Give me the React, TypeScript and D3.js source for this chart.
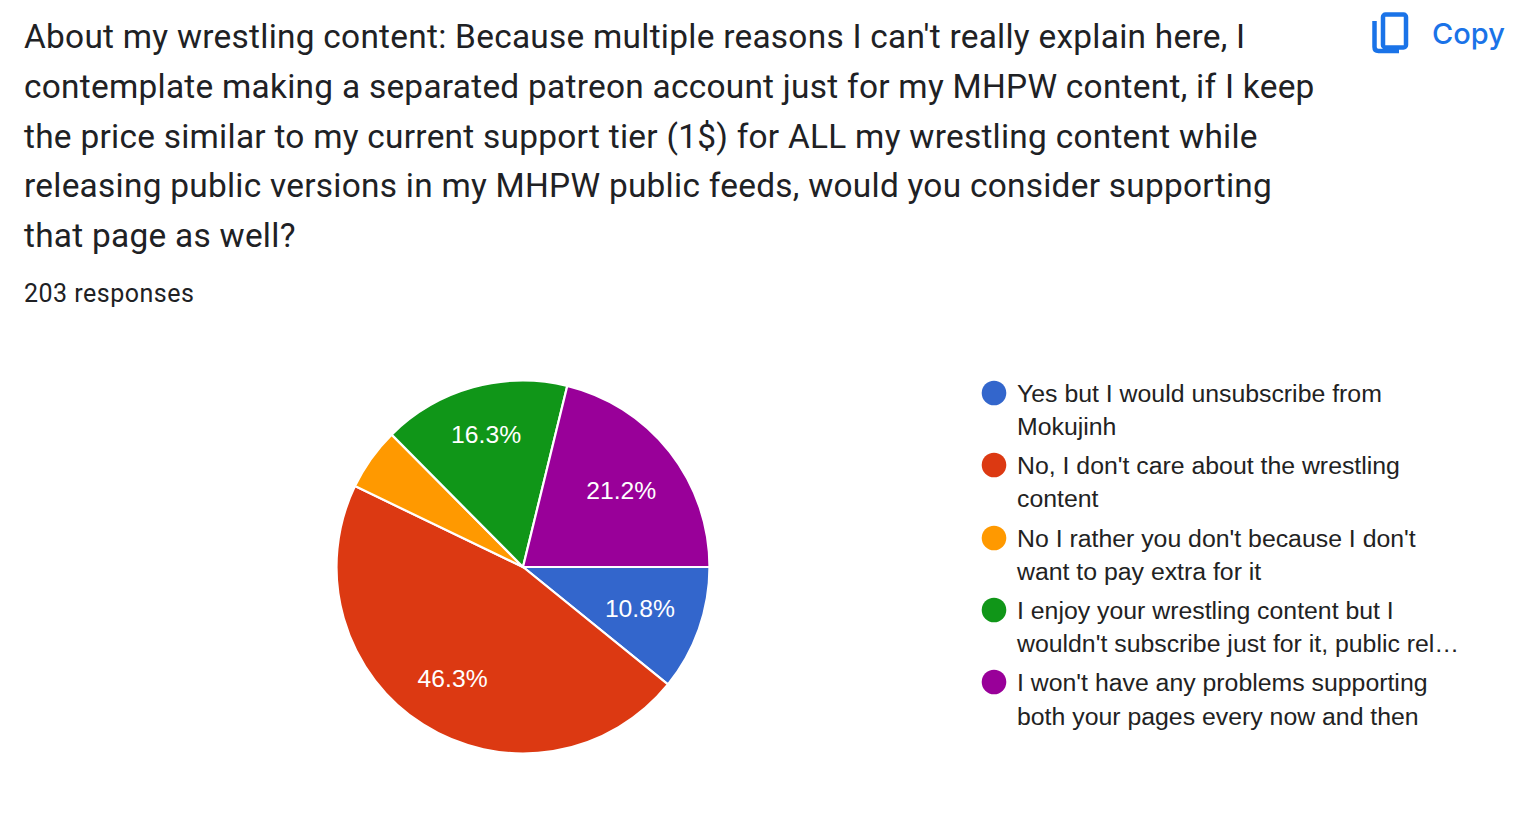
import * as d3 from "d3";

const titleLines = [
  "About my wrestling content: Because multiple reasons I can't really explain here, I",
  "contemplate making a separated patreon account just for my MHPW content, if I keep",
  "the price similar to my current support tier (1$) for ALL my wrestling content while",
  "releasing public versions in my MHPW public feeds, would you consider supporting",
  "that page as well?",
];
const responses = "203 responses";

const answers = [
  ["Yes but I would unsubscribe from", "Mokujinh"],
  ["No, I don't care about the wrestling", "content"],
  ["No I rather you don't because I don't", "want to pay extra for it"],
  ["I enjoy your wrestling content but I", "wouldn't subscribe just for it, public rel…"],
  ["I won't have any problems supporting", "both your pages every now and then"],
];
const counts = [22, 94, 11, 33, 43];
const colors = ["#3366cc", "#dc3912", "#ff9900", "#109618", "#990099"];

const width = 1537;
const height = 818;
const cx = 523;
const cy = 567;
const radius = 186.5;
const legendTops = [393, 465, 538, 610, 682];
// how far out each percent label sits, as a share of the radius
const labelOffsets = [0.665, 0.705, 0.665, 0.74, 0.67];

export default function App() {
  const total = d3.sum(counts);
  const pie = d3
    .pie<number>()
    .sort(null)
    .startAngle(Math.PI / 2)
    .endAngle(Math.PI / 2 + 2 * Math.PI);
  const slices = pie(counts);
  const arc = d3.arc<d3.PieArcDatum<number>>().innerRadius(0).outerRadius(radius);
  const pct = d3.format(".1%");

  return (
    <svg
      width={width}
      height={height}
      viewBox={`0 0 ${width} ${height}`}
      style={{ position: "absolute", left: 0, top: 0 }}
    >
      <rect width={width} height={height} fill="#fff" />
      {titleLines.map((line, i) => (
        <text
          key={i}
          x={24}
          y={48 + i * 49.8}
          fontFamily="Roboto"
          fontSize={33.4}
          letterSpacing={0.27}
          fill="#202124"
        >
          {line}
        </text>
      ))}
      <text
        x={24}
        y={302}
        fontFamily="Roboto"
        fontSize={25}
        letterSpacing={0.5}
        fill="#202124"
      >
        {responses}
      </text>

      {/* copy button */}
      <g fill="none" stroke="#1a73e8" strokeWidth={4.5}>
        <rect x={1383} y={14.5} width={23} height={33} rx={2.5} />
        <path d="M1374.5 21 V47 Q1374.5 51 1378.5 51 H1399" />
      </g>
      <text
        x={1432}
        y={43.5}
        fontFamily="Inter"
        fontSize={29}
        fontWeight={500}
        fill="#1a73e8"
      >
        Copy
      </text>

      <g transform={`translate(${cx},${cy})`}>
        {slices.map((s, i) => (
          <path key={i} d={arc(s) ?? ""} fill={colors[i]} stroke="#fff" strokeWidth={2.2} />
        ))}
        {slices.map((s, i) => {
          if (s.data / total < 0.06) return null;
          const r = radius * labelOffsets[i];
          const [x, y] = d3.arc<d3.PieArcDatum<number>>().innerRadius(r).outerRadius(r).centroid(s);
          return (
            <text
              key={i}
              x={x}
              y={y + 9}
              textAnchor="middle"
              fontFamily="Liberation Sans"
              fontSize={24.7}
              fill="#fff"
            >
              {pct(s.data / total)}
            </text>
          );
        })}
      </g>

      {answers.map((lines, i) => (
        <g key={i}>
          <circle cx={994} cy={legendTops[i]} r={12.3} fill={colors[i]} />
          {lines.map((line, j) => (
            <text
              key={j}
              x={1017}
              y={legendTops[i] + 9 + j * 33 + (i === 4 && j === 1 ? 1 : 0)}
              fontFamily="Liberation Sans"
              fontSize={24.83}
              fill="#222"
            >
              {line}
            </text>
          ))}
        </g>
      ))}
    </svg>
  );
}
